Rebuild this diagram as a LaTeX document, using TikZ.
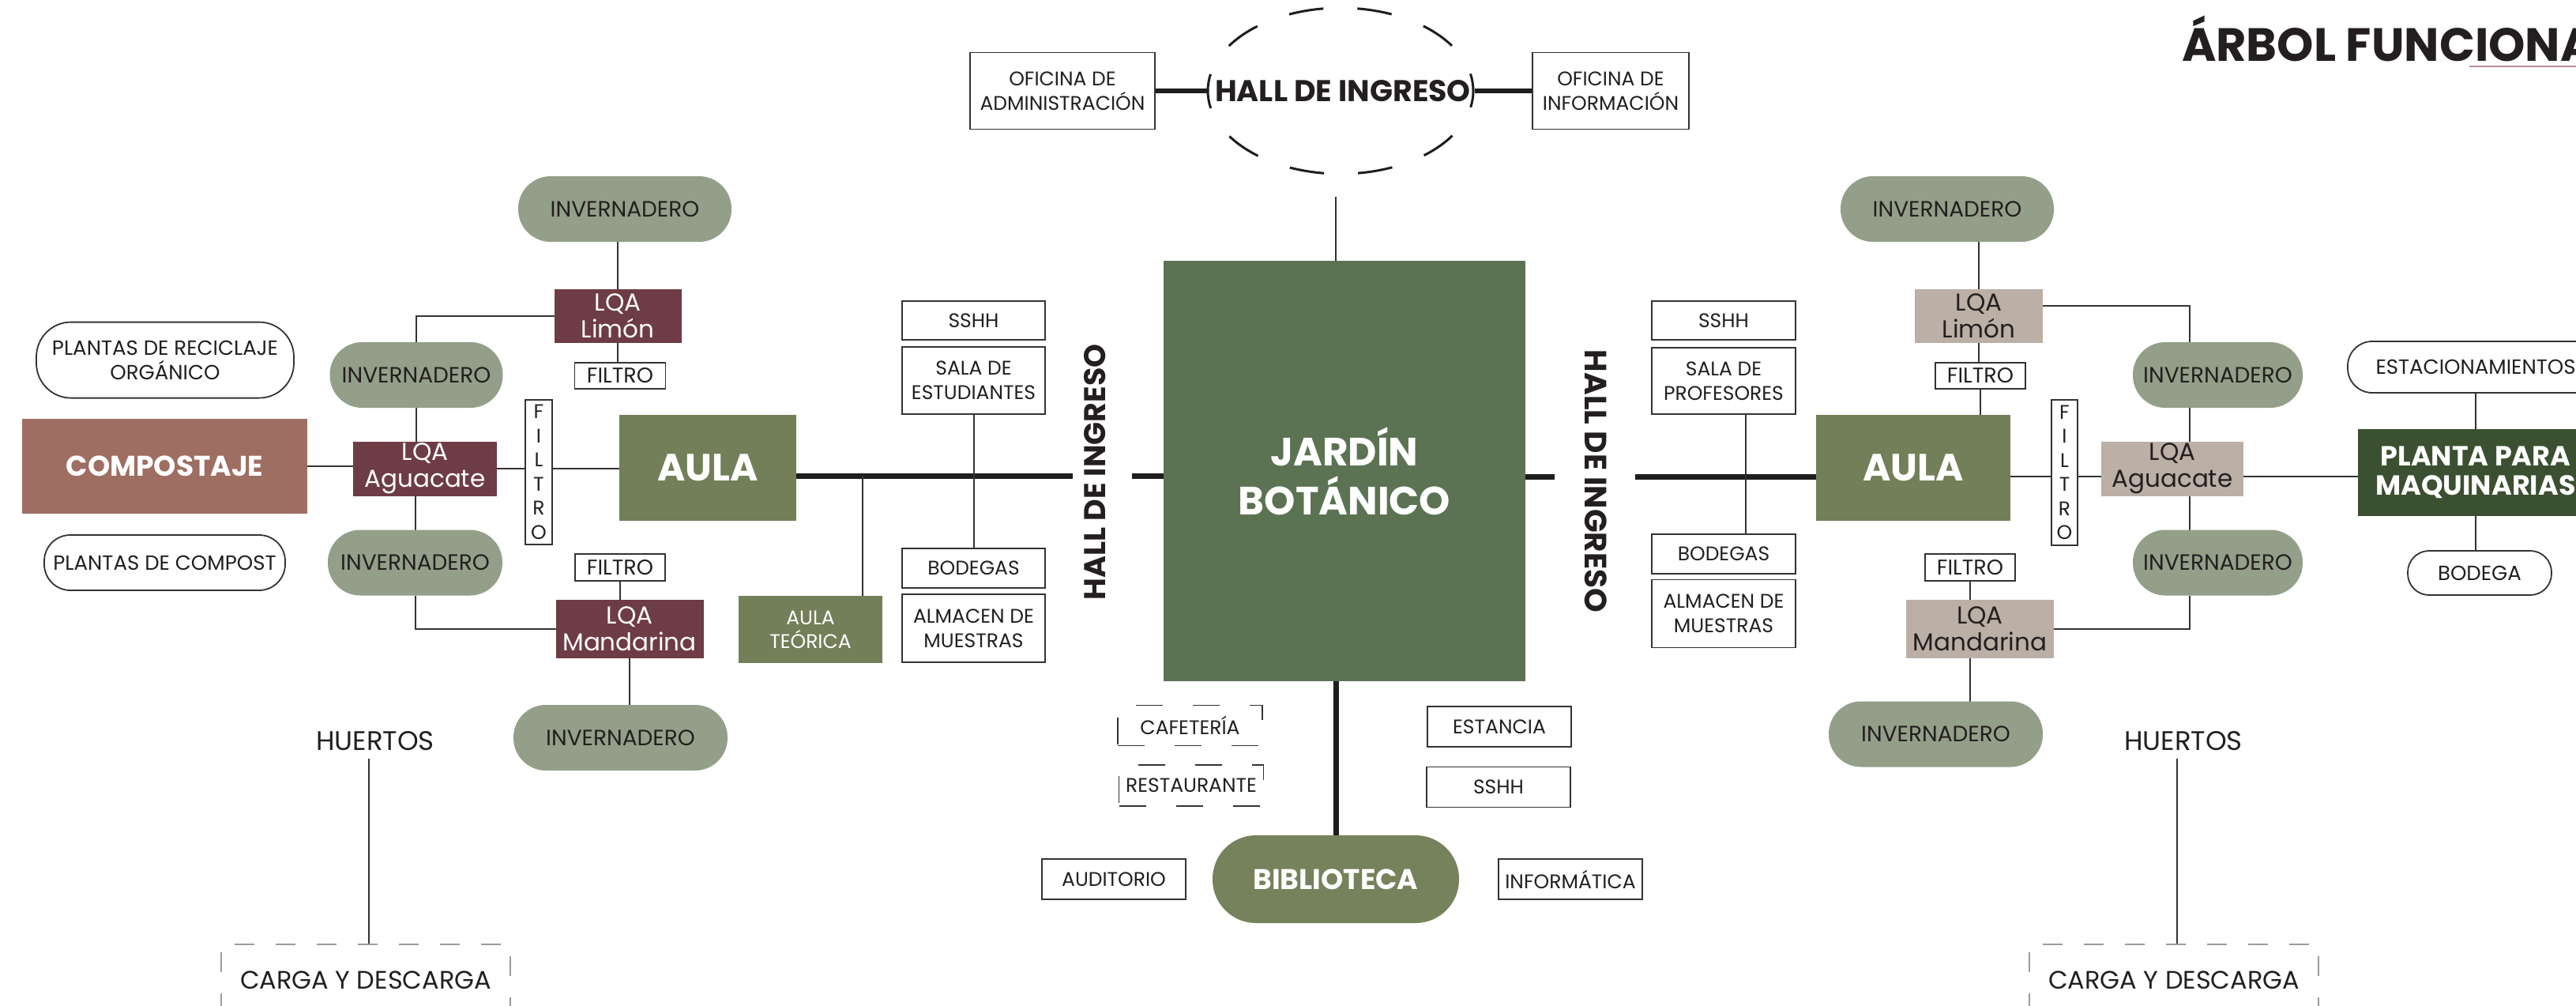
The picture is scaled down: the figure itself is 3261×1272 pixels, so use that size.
\documentclass[tikz,border=0pt]{standalone}
\usepackage{fontspec}
\setmainfont{Poppins}
\usetikzlibrary{shapes.geometric,calc}
\definecolor{txt}{HTML}{231F20}
\definecolor{ln}{HTML}{333333}
\definecolor{lk}{HTML}{1E1E1E}
\definecolor{invc}{HTML}{939F88}
\definecolor{maroon}{HTML}{6E3C45}
\definecolor{beige}{HTML}{BBAFA6}
\definecolor{aulac}{HTML}{727F58}
\definecolor{jardc}{HTML}{5B7352}
\definecolor{bibc}{HTML}{75825C}
\definecolor{plantc}{HTML}{3B5030}
\definecolor{compc}{HTML}{9E6E63}
\definecolor{ulc}{HTML}{B88E96}
\definecolor{cargc}{HTML}{9B9B9B}
\pgfdeclarelayer{bg}
\pgfsetlayers{bg,main}
\tikzset{
  base/.style={inner sep=0pt, outer sep=0pt, align=center, text=txt},
  lbox/.style={base, draw=ln, line width=1.8pt, fill=white, font=\fontsize{25}{31}\selectfont},
  dbox/.style={lbox, dash pattern=on 34pt off 38pt},
  pillw/.style={lbox, font=\fontsize{26}{31}\selectfont},
  invb/.style={base, fill=invc, rounded corners=41pt, minimum height=83pt, font=\fontsize{28}{32}\selectfont},
  lqaL/.style={base, fill=maroon, text=white, font=\fontsize{31}{34}\selectfont},
  lqaR/.style={base, fill=beige, text=txt, font=\fontsize{31}{34}\selectfont},
  filb/.style={lbox, font=\fontsize{27}{31}\selectfont},
  fvert/.style={lbox, font=\fontsize{25}{30.5}\selectfont},
  aulab/.style={base, fill=aulac, text=white, font=\bfseries\fontsize{48}{54}\selectfont},
  hallv/.style={base, font=\bfseries\fontsize{38}{42}\selectfont},
  cargab/.style={base, draw=cargc, line width=2pt, dash pattern=on 25pt off 27pt, font=\fontsize{32}{38}\selectfont},
  huert/.style={base, font=\fontsize{34}{38}\selectfont},
  thin/.style={draw=ln, line width=2pt},
  thickln/.style={draw=lk, line width=7pt},
}
\begin{document}
\begin{tikzpicture}[x=1pt,y=-1pt]
\useasboundingbox (0,0) rectangle (3261,1272);
\begin{pgfonlayer}{bg}
\fill[white] (0,0) rectangle (3261,1272);
\end{pgfonlayer}

% title
\node[base, anchor=base west, font=\bfseries\fontsize{59}{64}\selectfont] (title) at (2762,77) {ÁRBOL FUNCIONAL};
\draw[ulc, line width=2.5pt] (3126,84) -- (3300,84);

% ---------- top centre
\node[ellipse, draw=lk, line width=3pt, dash pattern=on 44pt off 43pt, dash phase=22pt,
      minimum width=336pt, minimum height=210pt, inner sep=0pt] (hall) at (1697,115) {};
\node[base, font=\bfseries\fontsize{38}{42}\selectfont] (hallT) at (1700,115) {HALL DE INGRESO};
\node[lbox, minimum width=234pt, minimum height=97pt, font=\fontsize{25}{31}\selectfont] (ofiA) at (1345,115) {OFICINA DE\\ADMINISTRACIÓN};
\node[lbox, minimum width=198pt, minimum height=97pt, font=\fontsize{25}{31}\selectfont] (ofiI) at (2039,115) {OFICINA DE\\INFORMACIÓN};
\coordinate (hb) at (1691,249);

% ---------- centre
\node[base, fill=jardc, text=white, minimum width=458pt, minimum height=532pt,
      font=\bfseries\fontsize{50}{62}\selectfont] (jardin) at (1702,596) {JARDÍN\\BOTÁNICO};
\node[hallv] (hallL) at (1386,597.5) {\rotatebox{90}{HALL DE INGRESO}};
\node[hallv, font=\bfseries\fontsize{39}{42}\selectfont] (hallR) at (2020,609) {\rotatebox{-90}{HALL DE INGRESO}};

\node[dbox, minimum width=183pt, minimum height=51pt] (cafe) at (1506.5,918) {CAFETERÍA};
\node[dbox, minimum width=183pt, minimum height=52pt] (rest) at (1508,994) {RESTAURANTE};
\node[lbox, minimum width=182pt, minimum height=51pt] (estan) at (1898,919.5) {ESTANCIA};
\node[lbox, minimum width=182pt, minimum height=51pt] (sshhB) at (1897,996) {SSHH};
\node[base, fill=bibc, text=white, rounded corners=55pt, minimum width=312pt, minimum height=111pt,
      font=\bfseries\fontsize{36}{40}\selectfont] (biblio) at (1691,1112.5) {BIBLIOTECA};
\node[lbox, minimum width=182pt, minimum height=51pt] (audi) at (1410,1112.5) {AUDITORIO};
\node[lbox, minimum width=182pt, minimum height=51pt] (infor) at (1988,1112.5) {INFORMÁTICA};

% ---------- left
\node[invb, minimum width=270pt] (invTL) at (791,264.5) {INVERNADERO};
\node[lqaL, minimum width=161pt, minimum height=68pt] (limL) at (782,400) {LQA\\Limón};
\node[filb, minimum width=115pt, minimum height=33pt] (filTL) at (785,475.5) {FILTRO};
\node[invb, minimum width=219pt] (invML) at (527,474.5) {INVERNADERO};
\node[pillw, rounded corners=44pt, minimum width=326pt, minimum height=96pt] (reci) at (209,455.6) {PLANTAS DE RECICLAJE\\ORGÁNICO};
\node[base, fill=compc, text=white, minimum width=361pt, minimum height=120pt,
      font=\bfseries\fontsize{36}{40}\selectfont] (comp) at (208.5,590) {COMPOSTAJE};
\node[lqaL, minimum width=182pt, minimum height=69pt] (agL) at (538,593) {LQA\\Aguacate};
\node[fvert, minimum width=34pt, minimum height=183pt] (fvL) at (682,597.5) {F\\I\\L\\T\\R\\O};
\node[aulab, minimum width=224pt, minimum height=134pt] (aulaL) at (896,592) {AULA};
\node[pillw, rounded corners=33pt, minimum width=305pt, minimum height=70pt] (compost) at (208.5,712) {PLANTAS DE COMPOST};
\node[invb, minimum width=221pt] (invLL) at (525.5,712) {INVERNADERO};
\node[filb, minimum width=114pt, minimum height=34pt] (filBL) at (785,718) {FILTRO};
\node[lqaL, minimum width=187pt, minimum height=74pt] (manL) at (797,796) {LQA\\Mandarina};
\node[invb, minimum width=271pt] (invBL) at (785.5,933.5) {INVERNADERO};
\node[base, fill=aulac, text=white, minimum width=182pt, minimum height=85pt,
      font=\fontsize{25}{30}\selectfont] (aulaT) at (1026,796.5) {AULA\\TEÓRICA};
\node[lbox, minimum width=181pt, minimum height=49pt] (sshhL) at (1232.5,405.5) {SSHH};
\node[lbox, minimum width=181pt, minimum height=85pt] (salaE) at (1232.5,481.5) {SALA DE\\ESTUDIANTES};
\node[lbox, minimum width=181pt, minimum height=50pt] (bodL) at (1232.5,719) {BODEGAS};
\node[lbox, minimum width=181pt, minimum height=86pt] (almL) at (1232.5,795) {ALMACEN DE\\MUESTRAS};
\node[huert] (huL) at (475,937.5) {HUERTOS};
\node[cargab, minimum width=366pt, minimum height=90pt] (cargaL) at (463,1240) {CARGA Y DESCARGA};

% ---------- right
\node[lbox, minimum width=182pt, minimum height=49pt] (sshhR) at (2182,405.5) {SSHH};
\node[lbox, minimum width=182pt, minimum height=84pt] (salaP) at (2182,482) {SALA DE\\PROFESORES};
\node[lbox, minimum width=182pt, minimum height=49.5pt] (bodR) at (2182,701) {BODEGAS};
\node[lbox, minimum width=182pt, minimum height=86pt] (almR) at (2182,776.5) {ALMACEN DE\\MUESTRAS};
\node[aulab, minimum width=246pt, minimum height=134pt] (aulaR) at (2422,592) {AULA};
\node[invb, minimum width=270pt] (invTR) at (2465,264.5) {INVERNADERO};
\node[lqaR, minimum width=162pt, minimum height=68pt] (limR) at (2505,400) {LQA\\Limón};
\node[filb, minimum width=114pt, minimum height=33pt] (filTR) at (2507,475.5) {FILTRO};
\node[fvert, minimum width=33pt, minimum height=184pt] (fvR) at (2613.5,598) {F\\I\\L\\T\\R\\O};
\node[lqaR, minimum width=180pt, minimum height=69pt] (agR) at (2750,593) {LQA\\Aguacate};
\node[invb, minimum width=215pt] (invMR) at (2807.5,474.5) {INVERNADERO};
\node[invb, minimum width=215pt] (invLR) at (2807.5,712) {INVERNADERO};
\node[filb, minimum width=114pt, minimum height=34pt] (filBR) at (2494,718) {FILTRO};
\node[lqaR, minimum width=187pt, minimum height=74pt] (manR) at (2506.5,796) {LQA\\Mandarina};
\node[invb, minimum width=271pt] (invBR) at (2450.5,929) {INVERNADERO};
\node[base, fill=plantc, text=white, minimum width=298pt, minimum height=110pt,
      font=\bfseries\fontsize{35}{37}\selectfont] (planta) at (3134,598) {PLANTA PARA\\MAQUINARIAS};
\node[pillw, rounded corners=31pt, minimum width=324pt, minimum height=65pt] (estac) at (3134,464.5) {ESTACIONAMIENTOS};
\node[pillw, rounded corners=27pt, minimum width=182pt, minimum height=56pt] (bodega) at (3139,725) {BODEGA};
\node[huert] (huR) at (2764,937.5) {HUERTOS};
\node[cargab, minimum width=366pt, minimum height=90pt] (cargaR) at (2752,1240) {CARGA Y DESCARGA};

% ---------- connectors
\coordinate (hlA) at (1358,602);
\coordinate (hlB) at (1433,602);
\coordinate (tA) at (1092,602);
\coordinate (hrA) at (1968,603);
\coordinate (hrB) at (2070,603);
\coordinate (pv) at (2210,603);
\coordinate (rv) at (2772,603);
\coordinate (rl) at (2586,387);
\coordinate (huLb) at (466.7,960);
\coordinate (huRb) at (2756,960);

\begin{pgfonlayer}{bg}
% centre
\draw[thickln, line width=6.5pt] (ofiA.east) -- (hall.west);
\draw[thickln, line width=6.5pt] (hall.east) -- (ofiI.west);
\draw[thin, line width=2.5pt] (hb) -- (hb |- jardin.north);
\draw[thickln] (biblio.north |- jardin.south) -- (biblio.north);
% left
\draw[thin] (limL.north) -- (limL.north |- invTL.south);
\draw[thin] (limL.south) -- (limL.south |- filTL.north);
\draw[thin] (limL.west) -| (invML.north);
\draw[thin] (comp.east) -- (comp.east -| agL.west);
\draw[thin] (invML.south) -- (invML.south |- agL.north);
\draw[thin] (agL.east) -- (agL.east -| aulaL.west);
\draw[thin] (invLL.north) -- (invLL.north |- agL.south);
\draw[thin] (invLL.south) |- (manL.west);
\draw[thin] (filBL.south) -- (filBL.south |- manL.north);
\draw[thin] (manL.south) -- (manL.south |- invBL.north);
\draw[thickln] (aulaL.east |- hlA) -- (hlA);
\draw[thickln] (hlB) -- (jardin.west |- hlB);
\draw[thin] (tA) -- (tA |- aulaT.north);
\draw[thin] (salaE.south) -- (bodL.north);
\draw[thin] (huLb) -- (huLb |- cargaL.north);
% right
\draw[thickln] (jardin.east |- hrA) -- (hrA);
\draw[thickln] (hrB) -- (aulaR.west |- hrB);
\draw[thin] (pv |- salaP.south) -- (pv |- bodR.north);
\draw[thin] (limR.north) -- (limR.north |- invTR.south);
\draw[thin] (limR.south) -- (limR.south |- filTR.north);
\draw[thin] (filTR.south) -- (filTR.south |- aulaR.north);
\draw[thin] (rl) -| (rv |- invMR.north);
\draw[thin] (rv |- invMR.south) -- (rv |- agR.north);
\draw[thin] (rv |- agR.south) -- (rv |- invLR.north);
\draw[thin] (rv |- invLR.south) |- (manR.east);
\draw[thin] (aulaR.east |- hrB) -- (agR.west |- hrB);
\draw[thin] (filBR.south) -- (filBR.south |- manR.north);
\draw[thin] (filBR.south |- manR.south) -- (filBR.south |- invBR.north);
\draw[thin] (agR.east |- hrB) -- (planta.west |- hrB);
\draw[thin] (estac.south) -- (planta.north);
\draw[thin] (planta.south) -- (planta.south |- bodega.north);
\draw[thin] (huRb) -- (huRb |- cargaR.north);
\end{pgfonlayer}
\end{tikzpicture}
\end{document}
